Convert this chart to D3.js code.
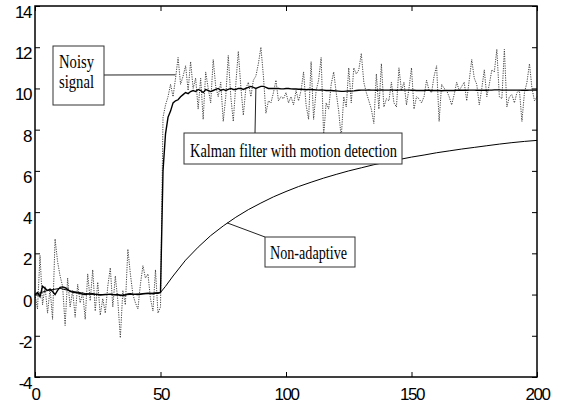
<!DOCTYPE html>
<html>
<head>
<meta charset="utf-8">
<script src="https://cdn.jsdelivr.net/npm/d3@7"></script>
<style>
  body { margin: 0; background: #fff; }
  .tick text { font-family: "Liberation Sans", Arial, sans-serif; font-size: 17px; letter-spacing: -1.4px; fill: #000; }
  .note { font-family: "Liberation Serif", "Times New Roman", serif; font-size: 19px; fill: #000; }
</style>
</head>
<body>
<svg width="564" height="408"></svg>
<script>
// noisy measurement, one sample per step, t = 0..200
var noisy = [
  0.0, -0.7, 1.9, -0.5, 0.4, -0.9, 0.3, -1.2, 2.7, 1.6,
  0.9, 0.4, -1.5, 0.8, -0.6, 0.2, -1.1, 0.5, -0.4, 0.1,
  -1.2, 1.0, -0.3, 1.2, -0.8, 0.6, -1.0, -0.2, -0.9, 0.4,
  1.3, -0.6, 0.9, -0.3, -2.1, 0.2, -0.5, 2.2, 1.0, 0.0,
  -0.4, -0.7, 0.5, 1.4, 0.8, 1.0, -0.2, -0.8, 1.2, -0.9,
  -0.6,
  8.6, 9.2, 9.6, 10.2, 9.6, 10.5, 11.5, 10.2, 10.6,
  11.1, 9.9, 11.3, 10.0, 10.5, 9.0, 10.5, 8.5, 10.8, 10.0,
  9.3, 11.4, 10.1, 9.6, 10.3, 8.4, 9.6, 11.6, 9.6, 8.4,
  10.2, 11.8, 10.1, 8.7, 10.0, 10.3, 9.6, 10.4, 10.6, 11.2,
  12.0, 10.6, 8.8, 9.4, 9.3, 9.8, 10.4, 9.4, 9.6, 9.5,
  9.8, 9.3, 9.6, 9.2, 9.9, 9.4, 9.9, 10.8, 9.2, 8.5,
  11.3, 8.5, 9.9, 10.4, 11.5, 7.7, 9.3, 9.0, 10.2, 10.8,
  9.8, 8.9, 7.6, 9.6, 9.1, 11.0, 9.3, 11.0, 10.7, 10.9,
  11.7, 10.3, 9.8, 9.4, 9.0, 8.3, 10.7, 9.0, 11.2, 9.1,
  9.5, 9.4, 10.3, 9.3, 9.1, 11.0, 9.9, 10.3, 9.2, 10.0,
  11.0, 9.0, 9.6, 9.5, 9.3, 9.6, 10.4, 9.9, 9.8, 10.6,
  11.1, 8.4, 10.2, 10.0, 9.9, 9.6, 9.2, 9.7, 10.3, 9.9,
  10.1, 10.3, 9.4, 10.4, 11.4, 10.5, 10.2, 9.2, 10.0, 10.9,
  9.6, 10.2, 10.9, 10.8, 11.9, 9.6, 9.5, 11.9, 9.1, 9.6,
  9.7, 9.3, 9.8, 9.9, 8.4, 9.8, 10.3, 11.2, 10.0, 9.4, 9.6
];

// Kalman filter with motion detection, t = 0..200
var kalman = [
  0.0, 0.1, -0.1, 0.4, 0.3, 0.2, 0.25, 0.15, 0.0, 0.2,
  0.35, 0.37, 0.33, 0.25, 0.15, 0.12, 0.1, 0.08, 0.05, 0.02,
  0.0, 0.02, 0.03, 0.04, 0.01, 0.0, -0.02, -0.01, 0.0, 0.01,
  0.02, 0.0, -0.01, 0.0, -0.05, -0.04, -0.02, 0.03, 0.04, 0.02,
  0.01, 0.0, 0.01, 0.04, 0.05, 0.06, 0.05, 0.04, 0.07, 0.06,
  0.1,
  6.0, 7.8, 8.6, 8.9, 9.3, 9.4, 9.45, 9.6, 9.7,
  9.8, 9.75, 9.85, 9.9, 9.85, 9.95, 9.9, 9.8, 9.95, 9.9,
  9.85, 9.9, 9.95, 10.0, 9.9, 9.95, 9.9, 9.95, 10.0, 9.95,
  9.95, 10.0, 10.0, 9.95, 10.0, 10.05, 10.1, 10.05, 10.0, 10.05,
  10.1, 10.1, 10.05, 10.0, 10.0, 10.0, 10.0, 10.0, 9.98, 9.98,
  10.0, 10.0, 9.98, 9.97, 9.97, 9.96, 9.96, 9.95, 9.94, 9.95,
  9.95, 9.94, 9.93, 9.92, 9.93, 9.92, 9.9, 9.9, 9.9, 9.89,
  9.88, 9.87, 9.86, 9.86, 9.87, 9.88, 9.87, 9.88, 9.9, 9.91,
  9.92, 9.92, 9.92, 9.93, 9.92, 9.92, 9.91, 9.92, 9.93, 9.92,
  9.92, 9.92, 9.93, 9.92, 9.91, 9.92, 9.93, 9.92, 9.92, 9.92,
  9.91, 9.91, 9.9, 9.9, 9.9, 9.9, 9.91, 9.91, 9.9, 9.9,
  9.9, 9.9, 9.89, 9.9, 9.9, 9.9, 9.9, 9.9, 9.91, 9.91,
  9.91, 9.91, 9.91, 9.92, 9.92, 9.92, 9.91, 9.91, 9.91, 9.91,
  9.91, 9.92, 9.92, 9.93, 9.93, 9.93, 9.92, 9.92, 9.92, 9.92,
  9.92, 9.92, 9.92, 9.92, 9.91, 9.91, 9.91, 9.92, 9.92, 9.92, 9.92
];

// non-adaptive filter, read every 5 steps
var naT = [0, 5, 10, 15, 20, 25, 30, 35, 40, 45, 50, 52, 55, 60, 65, 70, 75, 80, 85, 90, 95,
           100, 105, 110, 115, 120, 125, 130, 135, 140, 145, 150, 155, 160, 165, 170,
           175, 180, 185, 190, 195, 200];
var naV = [0.0, 0.2, 0.3, 0.15, 0.05, 0.0, 0.0, -0.02, 0.02, 0.05, 0.1, 0.4, 0.9, 1.67, 2.3, 2.86, 3.33, 3.75, 4.12, 4.44, 4.74,
           5.0, 5.24, 5.45, 5.65, 5.83, 6.0, 6.15, 6.3, 6.43, 6.55, 6.67, 6.77, 6.88, 6.97, 7.06,
           7.14, 7.22, 7.3, 7.37, 7.43, 7.48];

var xTicks = [0, 50, 100, 150, 200];
var yTicks = [-4, -2, 0, 2, 4, 6, 8, 10, 12, 14];

var svg = d3.select("svg");
// plot frame (window.top is reserved, so prefixed names)
var pLeft = 35, pRight = 537, pTop = 6, pBottom = 377;

var x = d3.scaleLinear().domain([0, 200]).range([pLeft, pRight]);
var y = d3.scaleLinear().domain([-4, 14]).range([pBottom, pTop]);

// plain hyphen minus like the original
var fmt = function(d) { return String(d); };

// axes, ticks pointing inward on all four sides
svg.append("g")
  .attr("transform", "translate(0," + pBottom + ")")
  .call(d3.axisBottom(x).tickValues(xTicks).tickFormat(fmt).tickSize(-5).tickPadding(0))
  .call(function(g) {
    g.select(".domain").remove();
    g.selectAll("text").attr("y", 23).attr("dy", 0);
  });
svg.append("g")
  .attr("transform", "translate(0," + pTop + ")")
  .call(d3.axisTop(x).tickValues(xTicks).tickSize(-5).tickFormat(""))
  .call(function(g) { g.select(".domain").remove(); });
svg.append("g")
  .attr("transform", "translate(" + pLeft + ",0)")
  .call(d3.axisLeft(y).tickValues(yTicks).tickFormat(fmt).tickSize(-5).tickPadding(4))
  .call(function(g) {
    g.select(".domain").remove();
    g.selectAll("text").attr("dy", 11.5);
  });
svg.append("g")
  .attr("transform", "translate(" + pRight + ",0)")
  .call(d3.axisRight(y).tickValues(yTicks).tickSize(-5).tickFormat(""))
  .call(function(g) { g.select(".domain").remove(); });

svg.selectAll(".tick line").attr("stroke", "#000").attr("stroke-width", 1);

// lines
var line = d3.line()
  .x(function(d, i) { return x(i); })
  .y(function(d) { return y(d); });

svg.append("path")
  .attr("d", line(noisy))
  .attr("fill", "none")
  .attr("stroke", "#444")
  .attr("stroke-width", 1)
  .attr("stroke-dasharray", "1.2,1.2");

var naLine = d3.line()
  .x(function(d) { return x(d); })
  .y(function(d, i) { return y(naV[i]); });

svg.append("path")
  .attr("d", naLine(naT))
  .attr("fill", "none")
  .attr("stroke", "#000")
  .attr("stroke-width", 1);

svg.append("path")
  .attr("d", line(kalman))
  .attr("fill", "none")
  .attr("stroke", "#000")
  .attr("stroke-width", 1.4);

// frame
svg.append("rect")
  .attr("x", pLeft).attr("y", pTop)
  .attr("width", pRight - pLeft).attr("height", pBottom - pTop)
  .attr("fill", "none")
  .attr("stroke", "#000")
  .attr("stroke-width", 1.5);

// annotations
function note(box, lines, pt, from) {
  svg.append("line")
    .attr("x1", from[0]).attr("y1", from[1])
    .attr("x2", x(pt[0])).attr("y2", y(pt[1]))
    .attr("stroke", "#222").attr("stroke-width", 1);
  svg.append("rect")
    .attr("x", box[0]).attr("y", box[1])
    .attr("width", box[2]).attr("height", box[3])
    .attr("fill", "#fff").attr("stroke", "#333").attr("stroke-width", 1);
  lines.forEach(function(l) {
    svg.append("text")
      .attr("class", "note")
      .attr("x", l.x).attr("y", l.y)
      .attr("textLength", l.w)
      .attr("lengthAdjust", "spacingAndGlyphs")
      .text(l.t);
  });
}

note([53, 46, 51, 59],
  [{t: "Noisy", x: 59, y: 68, w: 35}, {t: "signal", x: 59, y: 88, w: 35}],
  [56, 10.66], [104, 75]);

note([184, 133, 218, 31],
  [{t: "Kalman filter with motion detection", x: 190, y: 156.5, w: 207}],
  [88, 10.0], [255, 133]);

note([265, 237, 90, 30],
  [{t: "Non-adaptive", x: 270, y: 259, w: 77}],
  [76.5, 3.48], [265, 237]);
</script>
</body>
</html>
